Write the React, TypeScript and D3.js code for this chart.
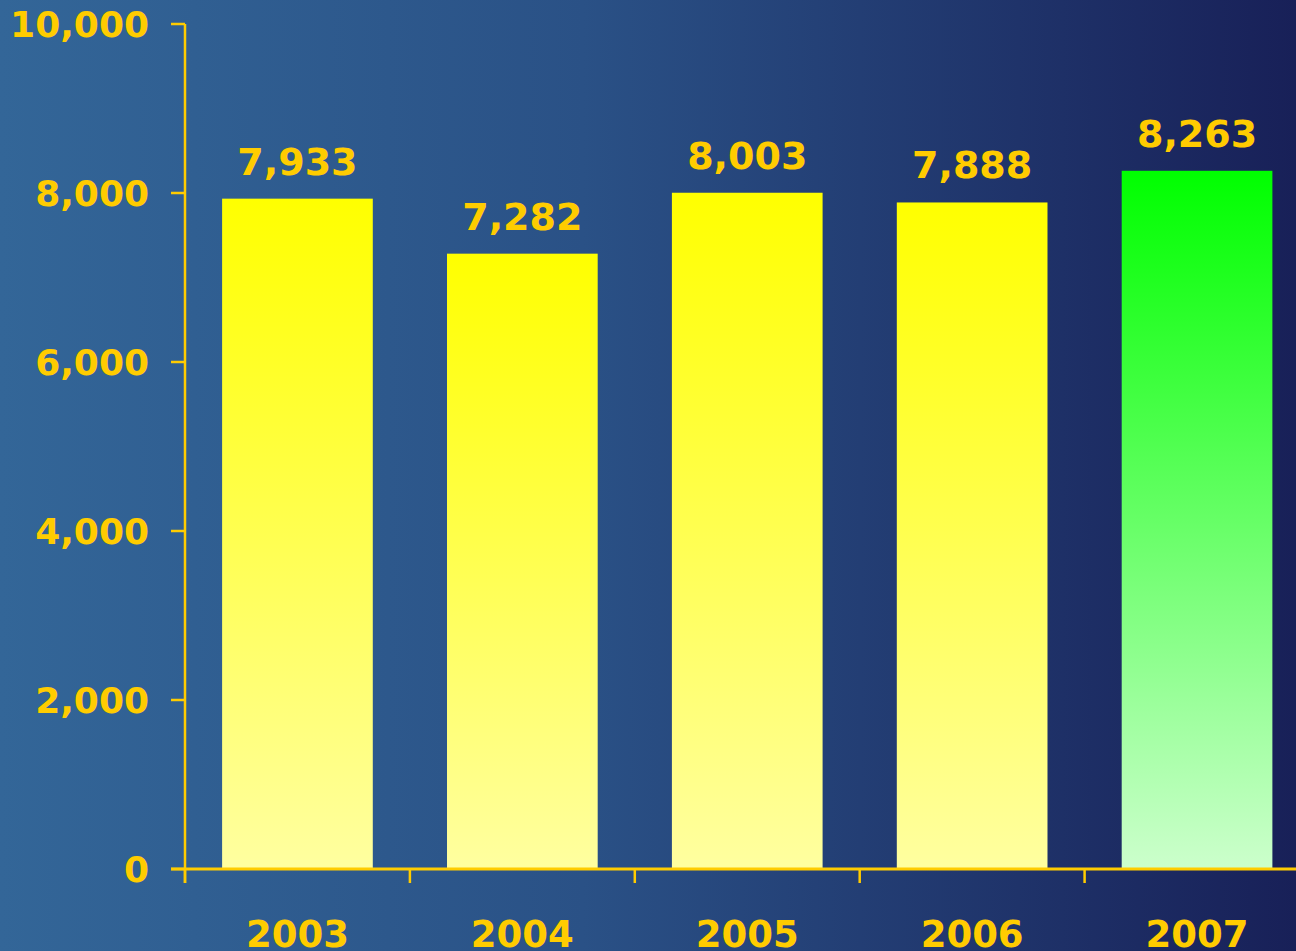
import { useEffect } from "react";
import * as d3 from "d3";

const years = ["2003", "2004", "2005", "2006", "2007"];
const values = [7933, 7282, 8003, 7888, 8263];
const yTicks = [0, 2000, 4000, 6000, 8000, 10000];
const highlightYear = "2007";

const W = 1296;
const H = 951;
const AXIS_X = 185;
const AXIS_Y = 869;
const TOP_Y = 24;

const GOLD = "#ffcc00";
const FONT = "'DejaVu Sans', Verdana, sans-serif";

export default function App() {
  useEffect(() => {
    document.body.style.margin = "0";
  }, []);

  const y = d3.scaleLinear().domain([0, 10000]).range([AXIS_Y, TOP_Y]);
  const step = (W - AXIS_X) / 4.94;
  const x = d3
    .scaleBand<string>()
    .domain(years)
    .range([AXIS_X, AXIS_X + step * years.length])
    .paddingInner(0.33)
    .paddingOuter(0.165);
  const fmt = d3.format(",");

  return (
    <svg width={W} height={H} style={{ display: "block" }}>
      <defs>
        <linearGradient id="bg" x1="0" y1="0" x2="1" y2="0">
          <stop offset="0%" stopColor="#336698" />
          <stop offset="45%" stopColor="#2a5186" />
          <stop offset="100%" stopColor="#182058" />
        </linearGradient>
        <linearGradient id="yellowBar" x1="0" y1="0" x2="0" y2="1">
          <stop offset="0%" stopColor="#ffff00" />
          <stop offset="100%" stopColor="#ffffa0" />
        </linearGradient>
        <linearGradient id="greenBar" x1="0" y1="0" x2="0" y2="1">
          <stop offset="0%" stopColor="#00ff00" />
          <stop offset="100%" stopColor="#ccffcc" />
        </linearGradient>
      </defs>
      <rect x={0} y={0} width={W} height={H} fill="url(#bg)" />

      {/* bars */}
      {years.map((yr, i) => (
        <rect
          key={yr}
          x={x(yr)}
          y={y(values[i])}
          width={x.bandwidth()}
          height={AXIS_Y - y(values[i])}
          fill={yr === highlightYear ? "url(#greenBar)" : "url(#yellowBar)"}
        />
      ))}

      {/* value labels */}
      {years.map((yr, i) => (
        <text
          key={"v" + yr}
          x={(x(yr) ?? 0) + x.bandwidth() / 2}
          y={y(values[i]) - 24}
          textAnchor="middle"
          fontFamily={FONT}
          fontWeight={700}
          fontSize={38}
          fill={GOLD}
        >
          {fmt(values[i])}
        </text>
      ))}

      {/* y axis */}
      <line x1={AXIS_X} x2={AXIS_X} y1={TOP_Y} y2={AXIS_Y + 14} stroke={GOLD} strokeWidth={2.5} />
      {yTicks.map((t) => (
        <g key={t}>
          <line x1={AXIS_X - 14} x2={AXIS_X} y1={y(t)} y2={y(t)} stroke={GOLD} strokeWidth={2.5} />
          <text
            x={AXIS_X - 36}
            y={y(t) + 13}
            textAnchor="end"
            fontFamily={FONT}
            fontWeight={700}
            fontSize={36}
            fill={GOLD}
          >
            {fmt(t)}
          </text>
        </g>
      ))}

      {/* x axis */}
      <line x1={AXIS_X - 14} x2={W} y1={AXIS_Y} y2={AXIS_Y} stroke={GOLD} strokeWidth={3} />
      {years.map((yr) => {
        const tx = (x(yr) ?? 0) - (x.step() * x.paddingInner()) / 2;
        return (
          <line key={"t" + yr} x1={tx} x2={tx} y1={AXIS_Y} y2={AXIS_Y + 14} stroke={GOLD} strokeWidth={2.5} />
        );
      })}
      {years.map((yr) => (
        <text
          key={"x" + yr}
          x={(x(yr) ?? 0) + x.bandwidth() / 2}
          y={947}
          textAnchor="middle"
          fontFamily={FONT}
          fontWeight={700}
          fontSize={37}
          fill={GOLD}
        >
          {yr}
        </text>
      ))}
    </svg>
  );
}
